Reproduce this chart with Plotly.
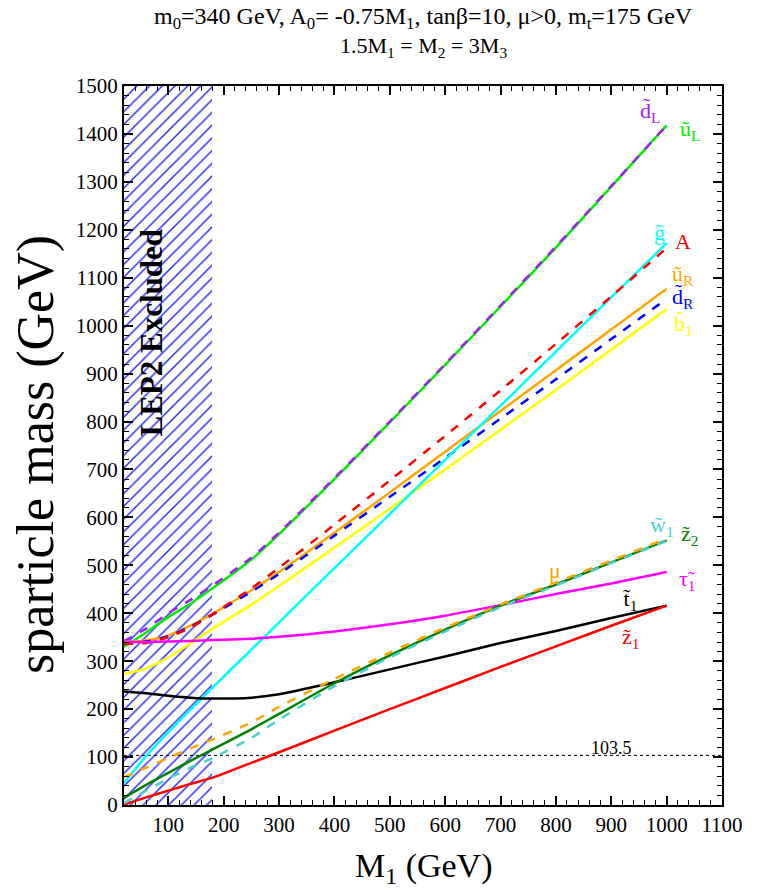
import plotly.graph_objects as go

# ---------------- data ----------------
M1 = [20, 60, 100, 140, 180, 250, 300, 400, 500, 600, 700, 800, 900, 1000]

m_uL  = [330, 360, 392, 420, 452, 512, 565, 680, 798, 918, 1040, 1163, 1290, 1418]
m_dL  = [342, 368, 400, 428, 458, 516, 568, 682, 800, 920, 1042, 1165, 1291, 1418]
m_gl  = [46, 102, 152, 199, 245, 324, 381, 494, 607, 720, 833, 946, 1059, 1172]
m_A   = [336, 338, 350, 370, 398, 452, 495, 585, 677, 770, 865, 962, 1061, 1162]
m_uR  = [340, 343, 354, 374, 399, 448, 486, 568, 652, 737, 822, 907, 992, 1077]
m_dR  = [338, 341, 352, 372, 397, 445, 482, 562, 643, 724, 806, 888, 972, 1056]
m_b1  = [273, 285, 308, 337, 368, 418, 457, 537, 618, 700, 783, 866, 950, 1035]
m_tau = [340, 340, 341, 342, 344, 347, 351, 362, 377, 395, 417, 440, 462, 486]
m_t1  = [237, 233, 228, 224, 222, 224, 231, 256, 283, 310, 338, 363, 390, 416]
m_z1  = [1, 16, 30, 44, 57, 88, 110, 155, 200, 244, 288, 331, 374, 416]
m_z2  = [15, 42, 67, 92, 116, 158, 190, 254, 312, 366, 416, 460, 506, 552]
m_mu  = [58, 78, 98, 118, 137, 172, 205, 263, 318, 370, 418, 464, 510, 556]
m_w1  = [4, 30, 55, 78, 98, 140, 178, 248, 308, 362, 413, 458, 505, 551]

lep_limit = 103.5
lep_excl_M1 = [20, 179]
x_ticks = list(range(100, 1101, 100))
y_ticks = list(range(0, 1501, 100))

SERIF = "Liberation Serif"

fig = go.Figure()

# hatched excluded region
fig.add_trace(go.Scatter(
    x=[lep_excl_M1[0], lep_excl_M1[1], lep_excl_M1[1], lep_excl_M1[0], lep_excl_M1[0]],
    y=[0, 0, 1500, 1500, 0],
    fill="toself", mode="lines", line=dict(width=0, color="rgba(0,0,0,0)"),
    fillcolor="white",
    fillpattern=dict(shape="/", fgcolor="#2525ff", bgcolor="white", size=9, solidity=0.16, fillmode="replace"),
    hoverinfo="skip", showlegend=False))

# LEP limit line
fig.add_trace(go.Scatter(x=[20, 1100], y=[lep_limit, lep_limit], mode="lines",
                         line=dict(color="black", width=1, dash="dot"), showlegend=False))

curves = [
    (m_uL, "#00ee00", "solid"),
    (m_dL, "#a020f0", "dash"),
    (m_b1, "#ffff00", "solid"),
    (m_uR, "#ffa500", "solid"),
    (m_dR, "#0000ff", "dash"),
    (m_gl, "#00ffff", "solid"),
    (m_A,  "#ff0000", "dash"),
    (m_tau, "#ff00ff", "solid"),
    (m_t1, "#000000", "solid"),
    (m_z1, "#ff0000", "solid"),
    (m_z2, "#008000", "solid"),
    (m_w1, "#48d1cc", "dash"),
    (m_mu, "#ffa500", "dash"),
]
for ys, col, dash in curves:
    fig.add_trace(go.Scatter(x=M1, y=ys, mode="lines",
                             line=dict(color=col, width=2.5, dash=dash, shape="spline", smoothing=0.6),
                             showlegend=False))

labels = [
    (970, 1446, "d\u0303<sub>L</sub>", "#a020f0"),
    (1042, 1408, "u\u0303<sub>L</sub>", "#00ee00"),
    (988, 1195, "g\u0303", "#00ffff"),
    (1030, 1175, "A", "#ff0000"),
    (1030, 1106, "u\u0303<sub>R</sub>", "#ffa500"),
    (1030, 1058, "d\u0303<sub>R</sub>", "#0000ff"),
    (1030, 1001, "b\u0303<sub>1</sub>", "#ffff00"),
    (992, 582, "w\u0303<sub>1</sub>", "#48d1cc"),
    (1042, 563, "z\u0303<sub>2</sub>", "#008000"),
    (798, 490, "μ", "#ffa500"),
    (1038, 469, "τ\u0303<sub>1</sub>", "#ff00ff"),
    (934, 428, "t\u0303<sub>1</sub>", "#000000"),
    (934, 348, "z\u0303<sub>1</sub>", "#ff0000"),
]
for x, y, t, c in labels:
    fig.add_annotation(x=x, y=y, xref="x", yref="y", text=t, showarrow=False,
                       xanchor="center", yanchor="middle",
                       font=dict(family=SERIF, size=22, color=c))

fig.add_annotation(x=900, y=119, xref="x", yref="y", text="103.5", showarrow=False,
                   xanchor="center", yanchor="middle",
                   font=dict(family=SERIF, size=18, color="black"))

fig.add_annotation(x=70, y=985, xref="x", yref="y", text="<b>LEP2 Excluded</b>", textangle=-90,
                   xanchor="center", yanchor="middle",
                   showarrow=False, font=dict(family=SERIF, size=31, color="black"))

# titles
fig.add_annotation(x=0.5, y=1.0946, xref="paper", yref="paper", xanchor="center", yanchor="middle",
                   text="m<sub>0</sub>=340 GeV, A<sub>0</sub>= -0.75M<sub>1</sub>, tanβ=10, μ>0, m<sub>t</sub>=175 GeV",
                   showarrow=False, font=dict(family=SERIF, size=24, color="black"))
fig.add_annotation(x=0.5, y=1.054, xref="paper", yref="paper", xanchor="center", yanchor="middle",
                   text="1.5M<sub>1</sub> = M<sub>2</sub> = 3M<sub>3</sub>",
                   showarrow=False, font=dict(family=SERIF, size=22, color="black"))
fig.add_annotation(x=0.5, y=-0.0876, xref="paper", yref="paper", xanchor="center", yanchor="middle",
                   text="M<sub>1</sub> (GeV)",
                   showarrow=False, font=dict(family=SERIF, size=34, color="black"))
fig.add_annotation(x=-0.147, y=0.487, xref="paper", yref="paper", xanchor="center", yanchor="middle",
                   text="sparticle mass (GeV)",
                   textangle=-90, showarrow=False, font=dict(family=SERIF, size=52, color="black"))

axis_common = dict(showgrid=False, zeroline=False, showline=True, linecolor="black", linewidth=2,
                   mirror="ticks", ticks="inside", ticklen=9, tickwidth=1.5, tickcolor="black",
                   tickfont=dict(family=SERIF, size=21, color="black"))
fig.update_xaxes(range=[20, 1100], tickvals=x_ticks,
                 minor=dict(ticks="inside", ticklen=5, tickwidth=1, tickcolor="black", dtick=20, tick0=0),
                 **axis_common)
fig.update_yaxes(range=[0, 1500], tickvals=y_ticks,
                 minor=dict(ticks="inside", ticklen=5, tickwidth=1, tickcolor="black", dtick=20, tick0=0),
                 **axis_common)

fig.update_layout(width=762, height=893, margin=dict(l=124, r=40, t=86, b=88),
                  plot_bgcolor="white", paper_bgcolor="white", showlegend=False)

fig.write_html("out.html")
